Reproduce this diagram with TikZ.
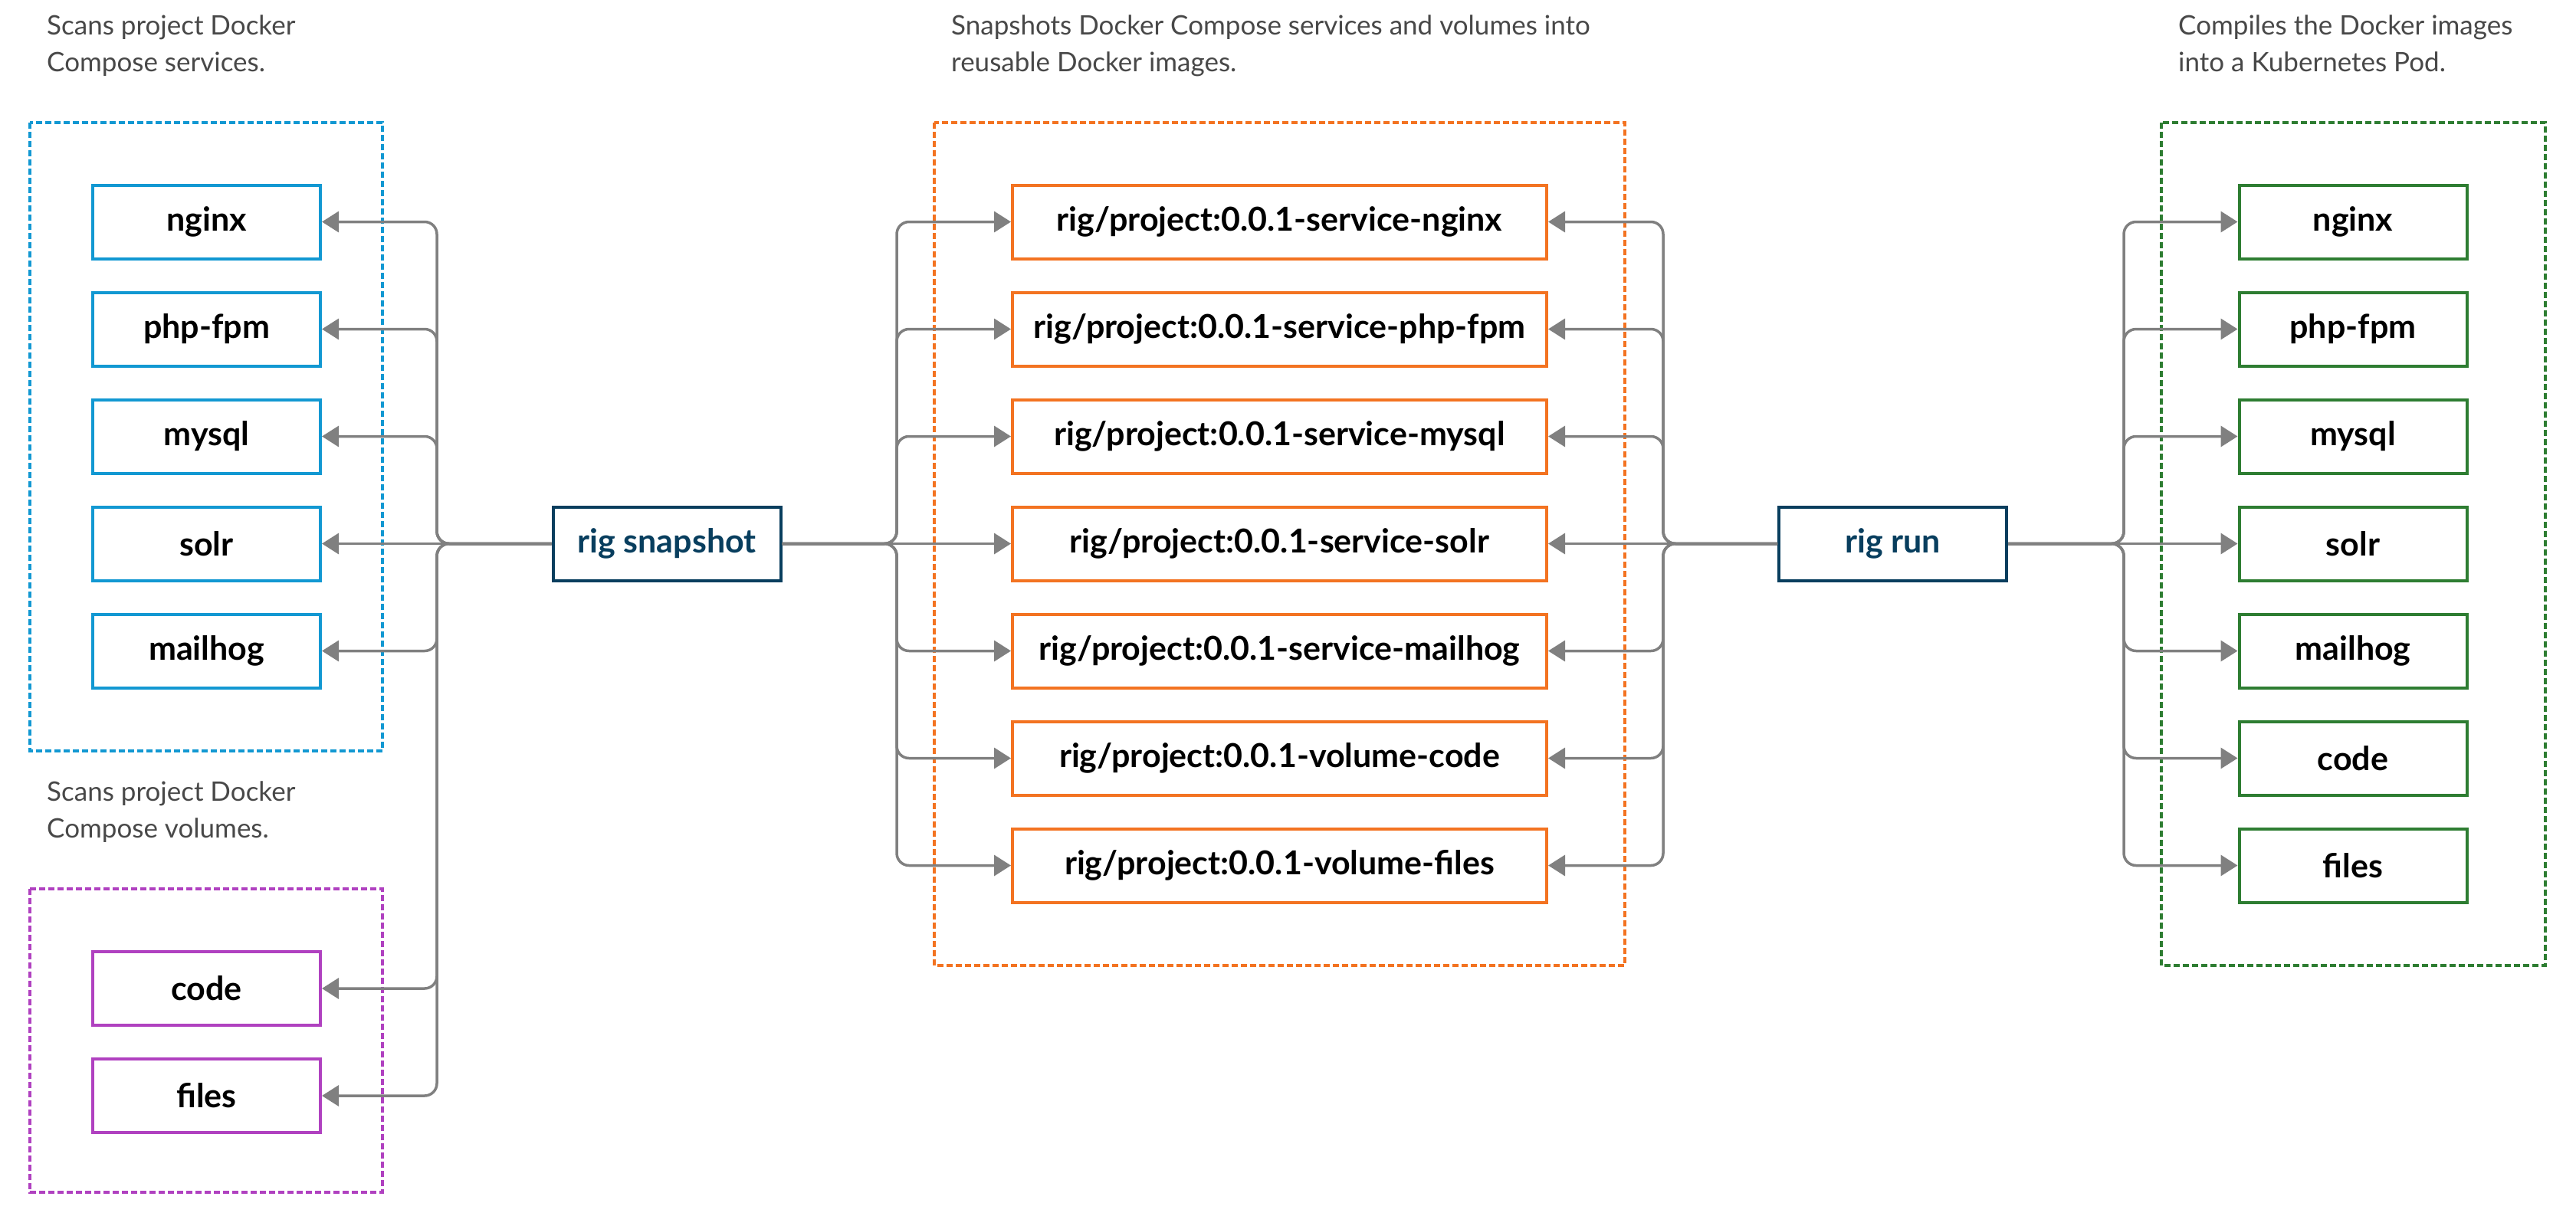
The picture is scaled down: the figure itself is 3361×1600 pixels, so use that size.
\documentclass[tikz,border=0pt]{standalone}
\usepackage{fontspec}
\setmainfont{Lato}
\usepackage{tikz}
\usetikzlibrary{arrows.meta}
\definecolor{svcblue}{RGB}{18,152,210}
\definecolor{volpurple}{RGB}{176,65,192}
\definecolor{imgorange}{RGB}{243,115,33}
\definecolor{podgreen}{RGB}{46,125,50}
\definecolor{cmdnavy}{RGB}{8,62,94}
\definecolor{wiregray}{RGB}{128,128,128}
\definecolor{notegray}{RGB}{72,72,72}

\begin{document}
\begin{tikzpicture}[x=1pt,y=-1pt,
box/.style={draw,line width=4pt,minimum height=96pt,inner sep=0pt,
  font=\fontsize{43}{50}\selectfont\bfseries},
small/.style={box,minimum width=297pt},
wide/.style={box,minimum width=697pt},
group/.style={line width=3.3pt,dash pattern=on 8pt off 4pt},
note/.style={anchor=base west,align=left,inner sep=0pt,text=notegray,
  font=\fontsize{35}{48}\selectfont},
wire/.style={draw=wiregray,line width=3.5pt,rounded corners=16pt,
  -{Triangle[length=22pt,width=27pt]}}]
\useasboundingbox (0,0) rectangle (3361,1600);

%%% Groups
\draw[group,svcblue] (39,160) rectangle (499,980);
\draw[group,volpurple] (39,1160) rectangle (499,1556);
\draw[group,imgorange] (1219,160) rectangle (2120,1260);
\draw[group,podgreen] (2820,160) rectangle (3321,1260);

\draw
(61,94) node[note](nsvc){Scans project Docker\\Compose services.}
(61,1093) node[note](nvol){Scans project Docker\\Compose volumes.}
(1241,94) node[note](nimg){Snapshots Docker Compose services and volumes into\\reusable Docker images.}
(2842,94) node[note](npod){Compiles the Docker images\\into a Kubernetes Pod.}
;

%%% Commands
\draw
(870,709.5) node[small,draw=cmdnavy,text=cmdnavy](snap){rig snapshot}
(2469.5,709.5) node[small,draw=cmdnavy,text=cmdnavy](run){rig run}
;

%%% Boxes
\foreach \n/\l [count=\i] in {s1/nginx, s2/php-fpm, s3/mysql, s4/solr, s5/mailhog}{
\draw (269.5,149.5+140*\i) node[small,draw=svcblue](\n){\l};
}
\foreach \n/\l [count=\i] in {v1/code, v2/files}{
\draw (269.5,1150+140*\i) node[small,draw=volpurple](\n){\l};
}
\foreach \n/\l [count=\i] in {i1/service-nginx, i2/service-php-fpm, i3/service-mysql,
i4/service-solr, i5/service-mailhog, i6/volume-code, i7/volume-files}{
\draw (1669.5,149.5+140*\i) node[wide,draw=imgorange](\n){rig/project:0.0.1-\l};
}
\foreach \n/\l [count=\i] in {p1/nginx, p2/php-fpm, p3/mysql, p4/solr, p5/mailhog,
p6/code, p7/files}{
\draw (3070,149.5+140*\i) node[small,draw=podgreen](\n){\l};
}

%%% Buses
\coordinate (sbus) at (570,709.5);
\coordinate (ibusl) at (1170,709.5);
\coordinate (ibusr) at (2170,709.5);
\coordinate (pbus) at (2771,709.5);

%%% Wires
\foreach \t in {s1,s2,s3,s5,v1,v2}{
\draw[wire](snap.west) -- (sbus) |- (\t.east);
}
\draw[wire](snap.west) -- (s4.east);
\foreach \t in {i1,i2,i3,i5,i6,i7}{
\draw[wire](snap.east) -- (ibusl) |- (\t.west);
\draw[wire](run.west) -- (ibusr) |- (\t.east);
}
\draw[wire](snap.east) -- (i4.west);
\draw[wire](run.west) -- (i4.east);
\foreach \t in {p1,p2,p3,p5,p6,p7}{
\draw[wire](run.east) -- (pbus) |- (\t.west);
}
\draw[wire](run.east) -- (p4.west);

\end{tikzpicture}
\end{document}
